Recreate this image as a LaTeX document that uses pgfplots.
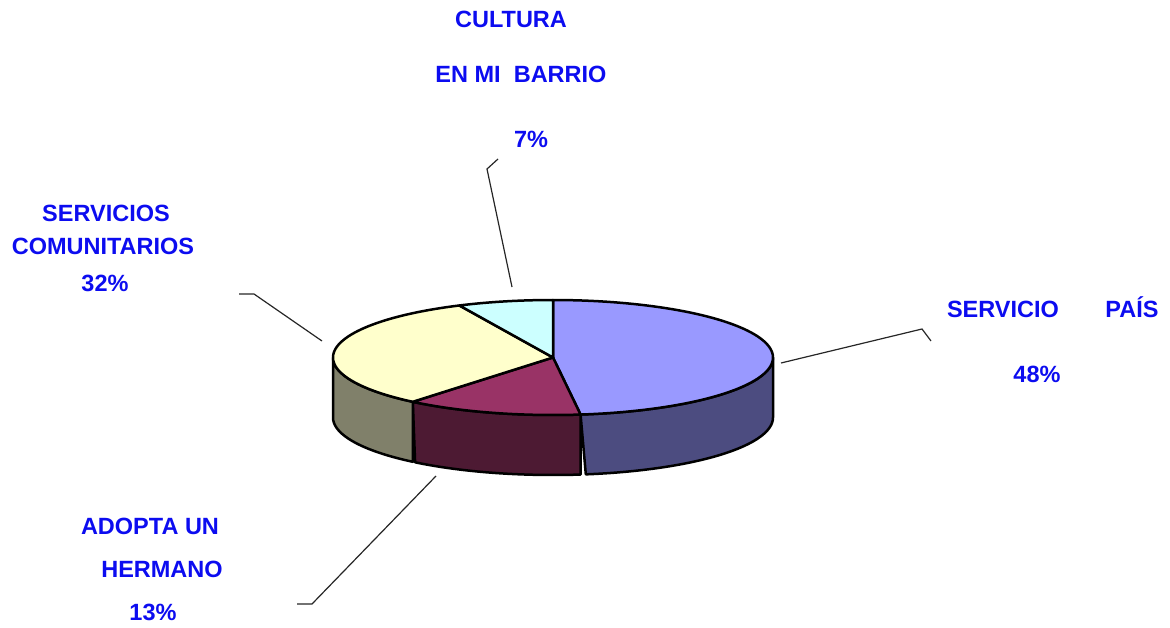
\documentclass[border=0pt]{standalone}
\usepackage{pgfplots}
\pgfplotsset{compat=1.18}
\usepackage{pgfplotstable}
\usepackage{fontspec}
\setmainfont{Liberation Sans}

\definecolor{lbl}{RGB}{12,12,240}
\definecolor{topA}{HTML}{9999FF}\definecolor{sideA}{HTML}{4C4C80}
\definecolor{topB}{HTML}{993366}\definecolor{sideB}{HTML}{4D1A33}
\definecolor{topC}{HTML}{FFFFCC}\definecolor{sideC}{HTML}{80806A}
\definecolor{topD}{HTML}{CCFFFF}

% shares of the four programmes (%)
\pgfplotstableread{
pct
48
13
32
7
}\piedata
\pgfplotstablegetelem{0}{pct}\of\piedata \let\pA\pgfplotsretval
\pgfplotstablegetelem{1}{pct}\of\piedata \let\pB\pgfplotsretval
\pgfplotstablegetelem{2}{pct}\of\piedata \let\pC\pgfplotsretval
\pgfplotstablegetelem{3}{pct}\of\piedata \let\pD\pgfplotsretval

\pgfmathsetmacro{\aZero}{90}
\pgfmathsetmacro{\aOne}{\aZero-3.6*\pA}
\pgfmathsetmacro{\aTwo}{\aOne-3.6*\pB}
\pgfmathsetmacro{\aThree}{\aTwo-3.6*\pC}
\pgfmathsetmacro{\aFour}{\aThree-3.6*\pD}

\newcommand{\pcx}{553}
\newcommand{\pcy}{357.5}
\newcommand{\prx}{220}
\newcommand{\pry}{57.5}
\newcommand{\pdep}{60}

\newcommand{\topwedge}[3]{%
  \addplot[fill=#1, draw=black, line width=2.5pt, line join=round,
    domain=#2:#3, samples=90, variable=\t]
    ({\pcx+\prx*cos(\t)},{\pcy-\pry*sin(\t)}) -- (axis cs:\pcx,\pcy) -- cycle;}
\newcommand{\sideface}[3]{%
  \addplot[fill=#1, draw=black, line width=2.5pt, line join=round,
    domain=0:2, samples=121, variable=\t]
    ({\pcx+\prx*cos((\t<1.001)*((#2)+((#3)-(#2))*\t)+(\t>1.001)*((#3)+((#2)-(#3))*(\t-1)))},
     {\pcy-\pry*sin((\t<1.001)*((#2)+((#3)-(#2))*\t)+(\t>1.001)*((#3)+((#2)-(#3))*(\t-1)))+(\t>1.001)*\pdep}) -- cycle;}

\begin{document}
\begin{tikzpicture}
\begin{axis}[
  width=1170pt, height=628pt, scale only axis,
  xmin=0, xmax=1170, ymin=0, ymax=628, y dir=reverse,
  hide axis, clip=false,
]
% side faces (front half)
\sideface{sideA}{0}{\aOne}
\sideface{sideB}{\aOne}{\aTwo}
\sideface{sideC}{\aTwo}{-180}
% top faces
\topwedge{topA}{\aOne}{\aZero}
\topwedge{topB}{\aTwo}{\aOne}
\topwedge{topC}{\aThree}{\aTwo}
\topwedge{topD}{\aFour}{\aThree}

% leader lines
\addplot[black!85, line width=1.2pt] coordinates {(498,159) (487,169) (512,287)};
\addplot[black!85, line width=1.2pt] coordinates {(239,294) (254,294) (322,341)};
\addplot[black!85, line width=1.2pt] coordinates {(931,341) (922,329) (781,363)};
\addplot[black!85, line width=1.2pt] coordinates {(297,604) (312,604) (436,476)};

% labels
\begin{scope}[every node/.style={anchor=base, text=lbl, font=\fontsize{23.5}{28}\selectfont\bfseries, inner sep=0pt}]
\node at (axis cs:511,28) {CULTURA};
\node at (axis cs:521,83) {EN MI\ \ BARRIO};
\node at (axis cs:531,148) {7\%};
\node at (axis cs:106,222) {SERVICIOS};
\node at (axis cs:103,255) {COMUNITARIOS};
\node at (axis cs:105,292) {32\%};
\node at (axis cs:1003,317) {SERVICIO};
\node at (axis cs:1132,317) {PAÍS};
\node at (axis cs:1037,382) {48\%};
\node at (axis cs:150,534) {ADOPTA UN};
\node at (axis cs:162,577) {HERMANO};
\node at (axis cs:153,620) {13\%};
\end{scope}
\end{axis}
\pgfresetboundingbox
\path (0,0) rectangle (1170pt,628pt);
\end{tikzpicture}
\end{document}
